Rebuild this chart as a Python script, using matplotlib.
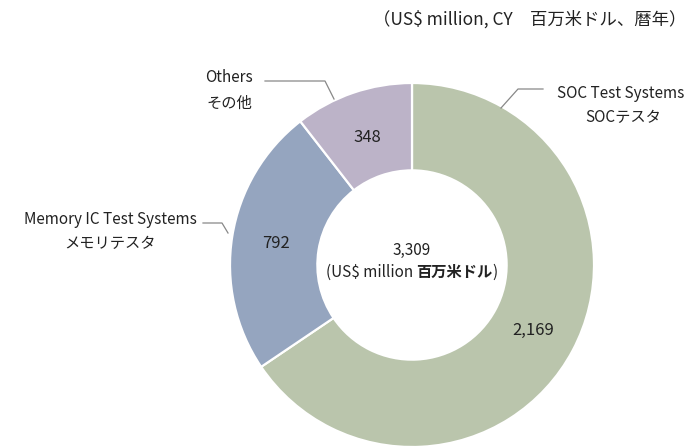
import matplotlib.pyplot as plt

plt.rcParams['font.family'] = ['Noto Sans CJK JP', 'DejaVu Sans']

segments = ['SOC Test Systems', 'Memory IC Test Systems', 'Others']
segments_jp = ['SOCテスタ', 'メモリテスタ', 'その他']
sales = [2169, 792, 348]
value_labels = ['2,169', '792', '348']
total_label = '3,309'
colors = ['#BAC5AC', '#95A5BF', '#BCB3C8']

# work in pixel coords, y measured up from the bottom
W, H = 687, 447
fig = plt.figure(figsize=(W / 100, H / 100), dpi=100)
ax = fig.add_axes([0, 0, 1, 1])

cx, cy, r = 412, H - 265, 182
ax.pie(sales, colors=colors, startangle=90, counterclock=False,
       center=(cx, cy), radius=r, frame=True,
       wedgeprops=dict(width=r * 0.48, edgecolor='white', linewidth=1.6))
ax.set_xlim(0, W)
ax.set_ylim(0, H)
ax.set_aspect('equal')
ax.axis('off')

fs = 11
tc = '#222222'
# value labels inside the ring
val_pos = [(533, 330), (276, 244), (367, 137)]
for (x, y), t in zip(val_pos, value_labels):
    ax.text(x, H - y, t, ha='center', va='center', fontsize=12, color=tc)

# centre total, second line has a bold japanese part
ax.text(cx, H - 250, total_label, ha='center', va='center', fontsize=fs, color=tc)
rend = fig.canvas.get_renderer()
parts = [('(US$ million ', 'normal'), ('百万米ドル', 'bold'), (')', 'normal')]
texts = [ax.text(0, H - 272, s, ha='left', va='center', fontsize=fs, fontweight=w, color=tc)
         for s, w in parts]
widths = [t.get_window_extent(rend).width for t in texts]
x0 = cx - sum(widths) / 2
for t, w in zip(texts, widths):
    t.set_x(x0)
    x0 += w

# category labels
lab_pos = [(621, 94, 623, 118), (110, 219, 110, 244), (229, 78, 229, 103)]
for (x1, y1, x2, y2), en, jp in zip(lab_pos, segments, segments_jp):
    ax.text(x1, H - y1, en, ha='center', va='center', fontsize=fs, color=tc)
    ax.text(x2, H - y2, jp, ha='center', va='center', fontsize=fs, color=tc)

# leader lines
leaders = [
    [(543, 89), (518, 89), (501, 108)],
    [(203, 223), (222, 223), (228, 233)],
    [(265, 81), (325, 81), (334, 99)],
]
for pts in leaders:
    ax.plot([p[0] for p in pts], [H - p[1] for p in pts], color='#888888', lw=0.9)

ax.text(686, H - 19, '（US$ million, CY　百万米ドル、暦年）', ha='right', va='center',
        fontsize=12.5, color=tc)

fig.savefig('out.png', dpi=100)
